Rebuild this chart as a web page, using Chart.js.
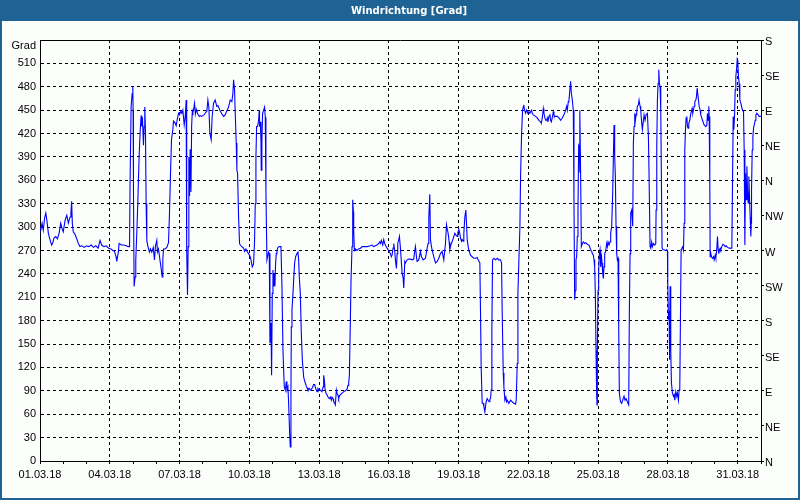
<!DOCTYPE html>
<html>
<head>
<meta charset="utf-8">
<script src="https://cdn.jsdelivr.net/npm/chart.js"></script>
<style>
html,body{margin:0;padding:0;background:#ffffff;}
canvas{display:block;}
</style>
</head>
<body>
<canvas id="c" width="800" height="500"></canvas>
<script>
const TITLE = 'Windrichtung [Grad]';
const Y_UNIT = 'Grad';
const START_DATE = [2018, 2, 1];
const COMPASS = ['N','NE','E','SE','S','SW','W','NW','N','NE','E','SE','S'];

const DAYS = [
0.00,0.04,0.09,0.14,0.20,0.25,0.29,0.33,0.36,0.43,0.50,0.55,0.60,0.68,0.75,0.82,0.89,0.95,1.00,1.08,
1.15,1.22,1.29,1.33,1.36,1.39,1.43,1.50,1.58,1.65,1.72,1.80,1.90,2.00,2.10,2.20,2.30,2.40,2.50,2.58,
2.65,2.75,2.85,2.95,3.05,3.13,3.20,3.27,3.30,3.37,3.40,3.50,3.60,3.70,3.80,3.85,
3.874,3.917,3.960,3.990,4.003,4.018,4.046,4.089,4.118,4.161,4.204,4.261,4.305,4.348,4.376,4.405,4.448,4.477,4.505,4.534,
4.563,4.592,4.635,4.707,4.750,4.807,4.870,4.922,4.965,5.022,5.050,5.094,5.166,5.209,5.252,5.281,5.310,5.380,5.453,5.525,
5.568,5.611,5.654,5.711,5.740,5.800,5.855,5.900,5.955,6.000,6.056,6.100,6.142,6.200,6.242,6.285,6.300,6.314,6.343,6.370,
6.400,6.430,6.457,6.490,6.520,6.550,6.572,6.610,6.644,6.680,6.720,6.760,6.800,6.850,6.888,6.950,7.000,7.050,7.100,7.175,
7.218,7.260,7.304,7.361,7.400,7.462,7.533,7.600,7.650,7.749,7.820,7.892,7.960,8.030,8.107,8.180,8.250,8.294,8.323,8.365,
8.390,8.437,8.466,8.495,8.538,8.580,
8.610,8.680,8.753,8.795,8.853,8.900,8.968,9.040,9.083,9.126,9.183,9.226,9.255,9.284,9.313,9.355,9.399,9.427,9.440,9.470,
9.500,9.513,9.540,9.571,9.614,9.657,9.686,9.714,9.757,9.786,9.829,9.858,9.887,9.930,9.958,9.987,10.016,10.045,10.073,10.100,
10.130,10.160,10.188,10.230,10.288,10.360,10.403,10.446,10.503,10.546,10.589,10.618,10.660,10.690,10.733,10.762,10.790,10.805,10.834,10.877,
10.906,10.948,10.991,11.049,11.092,11.120,11.149,11.192,11.235,11.278,11.336,11.365,11.407,11.450,11.480,11.522,11.580,11.623,11.695,11.766,
11.810,11.853,11.910,11.950,12.000,12.053,12.125,12.168,12.197,12.226,12.254,12.297,12.340,12.383,12.440,12.483,12.526,12.555,12.600,12.627,
12.670,12.699,12.742,12.770,12.814,12.842,12.885,12.914,12.986,13.060,13.129,13.200,13.244,13.273,13.302,
13.345,13.373,13.416,13.445,13.474,13.488,13.517,13.560,13.630,13.700,13.775,13.850,13.920,14.062,14.200,14.276,14.349,14.420,14.490,14.564,
14.607,14.636,14.679,14.736,14.779,14.822,14.850,14.923,14.990,15.066,15.109,15.138,15.180,15.210,15.253,15.282,15.325,15.354,15.382,15.425,
15.454,15.497,15.526,15.569,15.612,15.640,15.683,15.712,15.784,15.856,15.927,15.999,16.070,16.100,16.143,16.186,16.214,16.286,16.358,16.400,
16.473,16.573,16.645,16.688,16.717,16.760,16.788,16.831,16.874,16.930,17.004,17.075,17.147,17.218,17.290,17.362,17.405,17.434,17.477,17.520,
17.549,17.592,17.620,17.663,17.692,17.750,17.793,17.836,17.879,17.936,17.965,18.008,18.051,18.080,18.123,18.152,18.195,18.223,18.266,18.310,
18.338,18.367,18.410,18.453,18.510,18.582,18.653,18.725,18.797,18.840,18.912,18.941,18.969,19.012,19.055,19.084,19.127,19.155,19.184,19.228,
19.270,19.313,19.342,19.371,19.400,19.429,19.457,19.520,19.587,19.660,19.730,19.800,19.845,19.874,19.917,19.946,19.988,20.030,20.060,20.089,
20.160,20.232,20.300,20.376,20.447,20.476,20.519,20.548,20.591,20.634,20.663,20.706,20.749,20.778,
20.800,20.835,20.878,20.921,20.979,21.022,21.065,21.094,21.136,21.165,21.208,21.237,21.309,21.380,21.452,21.524,21.553,21.596,21.639,21.668,
21.710,21.739,21.782,21.811,21.840,21.883,21.926,21.954,21.983,22.026,22.069,22.098,22.127,22.170,22.241,22.313,22.385,22.456,22.528,22.600,
22.643,22.672,22.715,22.743,22.787,22.815,22.844,22.887,22.930,22.959,22.988,23.016,23.045,23.074,23.102,23.131,23.160,23.189,23.203,23.217,
23.246,23.275,23.318,23.360,23.418,23.461,23.533,23.605,23.676,23.719,23.748,23.791,23.820,23.849,23.877,23.906,23.935,23.949,23.963,23.992,
24.021,24.050,24.078,24.107,24.135,24.164,24.193,24.221,24.250,24.279,24.322,24.365,24.394,24.422,24.465,24.508,24.537,24.580,24.623,24.652,
24.681,24.709,24.738,24.767,24.796,24.824,24.853,24.882,24.910,24.960,25.011,25.054,25.111,25.154,25.197,25.255,25.312,25.341,25.370,25.398,
25.441,25.484,25.513,25.542,25.571,25.599,25.628,25.657,25.685,25.728,25.757,25.800,25.829,25.872,25.900,25.929,25.972,26.015,26.058,26.116,
26.159,26.188,26.230,
26.260,26.300,26.331,26.374,26.432,26.475,26.489,26.518,26.546,26.575,26.604,26.633,26.661,26.690,26.719,26.747,26.790,26.833,26.905,26.948,
26.977,26.991,27.020,27.049,27.063,27.077,27.092,27.120,27.149,27.192,27.235,27.264,27.293,27.336,27.379,27.407,27.450,27.479,27.508,27.537,
27.565,27.594,27.637,27.666,27.694,27.723,27.752,27.780,27.809,27.838,27.866,27.895,27.938,27.981,28.010,28.039,28.067,28.096,28.125,28.154,
28.197,28.225,28.254,28.268,28.297,28.340,28.383,28.412,28.484,28.555,28.627,28.670,28.699,28.728,28.756,28.771,28.799,28.814,28.843,28.871,
28.914,28.957,28.986,29.029,29.058,29.101,29.129,29.158,29.187,29.215,29.244,29.273,29.316,29.359,29.416,29.459,29.502,29.560,29.632,29.703,
29.746,29.775,29.804,29.832,29.861,29.890,29.918,29.947,29.976,30.004,30.033,30.062,30.090,30.134,30.162,30.205,30.248,30.277,30.306,30.335,
30.363,30.392,30.421,30.449,30.478,30.507,30.535,30.564,30.579,30.593,30.622,30.651,30.679,30.708,30.751,30.780,30.822,30.880,30.923,30.995
];

const DEG = [
300,298,305,296,312,318,310,300,292,284,277,280,286,288,285,292,305,298,294,309,
315,305,313,318,333,305,294,291,285,279,275,276,274,276,275,277,274,276,273,283,
277,275,276,273,272,270,269,262,256,268,279,277,277,276,275,275,
360,454,471,480,450,352,224,236,258,292,330,390,422,443,429,441,405,429,454,424,
330,283,276,268,272,268,274,258,276,283,268,272,256,247,236,258,272,272,274,280,
318,369,412,425,436,434,430,438,446,444,449,446,450,431,441,463,420,270,213,275,
390,340,400,345,430,449,447,452,459,445,451,447,444,442,443,442,443,444,446,449,
463,454,420,412,441,459,463,455,456,449,445,442,444,449,454,463,461,472,489,476,
450,408,373,369,313,279,
277,275,273,269,272,269,266,262,256,249,253,283,330,390,429,429,437,450,429,435,
412,373,407,446,450,454,441,347,258,262,268,266,151,177,110,215,245,224,241,224,
254,266,270,274,275,275,224,142,95,91,102,91,95,74,36,18,87,172,194,215,
232,254,262,266,268,258,236,215,164,130,108,104,100,96,94,91,93,91,93,98,
98,93,89,93,91,91,89,95,110,104,93,87,85,82,80,82,78,82,80,76,
74,72,91,87,84,80,84,85,87,89,90,92,97,100,110,
181,232,275,335,320,296,270,272,270,272,273,275,275,275,276,277,275,276,277,279,
281,279,283,277,284,279,277,273,270,266,262,264,273,279,269,258,247,266,279,284,
288,273,260,241,235,222,256,254,258,259,259,258,259,267,275,262,256,258,269,262,
258,260,273,279,313,342,284,275,269,262,254,256,260,266,269,258,271,279,303,296,
292,281,271,277,279,284,288,292,290,288,293,297,292,286,282,284,282,292,313,322,
305,284,275,269,264,262,260,260,261,258,254,189,120,74,74,70,63,70,76,80,
78,76,79,80,91,168,258,260,258,260,258,258,254,189,113,95,78,82,76,78,
74,78,76,74,73,78,125,215,258,300,365,420,450,454,
457,450,446,450,446,448,446,448,450,446,444,444,442,440,437,435,433,440,452,446,
440,437,437,440,435,442,444,437,435,440,448,444,442,442,442,440,437,440,444,450,
455,450,461,463,478,487,472,463,450,331,207,219,258,262,288,322,405,403,370,450,
365,275,279,281,279,280,278,277,271,269,266,264,258,249,215,142,83,72,138,219,
245,266,271,249,266,254,241,234,249,266,269,279,275,281,277,281,292,301,343,390,
431,390,365,301,266,258,260,172,87,76,74,78,83,78,80,76,72,194,266,318,
322,301,408,429,446,437,444,448,455,457,463,455,450,433,425,433,444,437,444,446,
416,365,275,
273,281,275,279,277,279,322,403,463,484,502,484,480,450,356,273,271,271,270,271,
269,228,185,189,130,164,224,142,100,87,83,85,78,89,83,87,78,91,93,185,
271,273,275,271,305,399,425,440,442,429,427,433,437,446,448,452,446,450,455,461,
463,467,478,474,467,455,450,444,437,431,429,431,446,437,455,442,356,262,266,262,
260,262,258,264,260,273,288,271,266,271,273,271,275,278,277,275,276,274,273,273,
273,356,442,425,442,476,493,502,514,510,493,484,463,459,455,450,448,399,277,369,
335,378,348,331,365,339,313,288,305,348,399,416,427,431,437,444,446,444,442,442
];

const FONT = '"Liberation Sans", Arial, sans-serif';

function pad2(n){ return (n < 10 ? '0' : '') + n; }
function dateLabel(dayOffset){
  const d = new Date(START_DATE[0], START_DATE[1], START_DATE[2] + dayOffset);
  return pad2(d.getDate()) + '.' + pad2(d.getMonth() + 1) + '.' + String(d.getFullYear()).slice(2);
}

const framePlugin = {
  id: 'frame',
  beforeDraw(chart) {
    const {ctx, width, height} = chart;
    ctx.save();
    ctx.fillStyle = '#fcfefc';
    ctx.fillRect(0, 0, width, height);
    ctx.fillStyle = '#1f6394';
    ctx.fillRect(0, 0, width, 21);
    ctx.fillRect(0, 0, 2, height);
    ctx.fillRect(width - 2, 0, 2, height);
    ctx.fillRect(0, height - 2, width, 2);
    ctx.fillStyle = '#ffffff';
    ctx.font = 'bold 10px "DejaVu Sans", sans-serif';
    ctx.textAlign = 'center';
    ctx.textBaseline = 'alphabetic';
    ctx.fillText(TITLE, 409, 14);
    ctx.restore();
  },
  afterDraw(chart) {
    const {ctx, chartArea: a} = chart;
    ctx.save();
    ctx.strokeStyle = '#000';
    ctx.lineWidth = 1;
    ctx.setLineDash([]);
    ctx.beginPath();
    ctx.moveTo(a.left, a.top + 0.5);
    ctx.lineTo(a.right, a.top + 0.5);
    ctx.stroke();
    ctx.fillStyle = '#000';
    ctx.font = '11px ' + FONT;
    ctx.textAlign = 'right';
    ctx.textBaseline = 'middle';
    ctx.fillText(Y_UNIT, a.left - 4, a.top + 6);
    ctx.restore();
  }
};

new Chart(document.getElementById('c'), {
  type: 'line',
  data: {
    datasets: [{
      data: DAYS.map((d, i) => ({x: d, y: DEG[i]})),
      borderColor: '#0000ff',
      borderWidth: 1.1,
      pointRadius: 0,
      fill: false,
      tension: 0,
      yAxisID: 'y'
    }]
  },
  options: {
    responsive: false,
    animation: false,
    events: [],
    layout: { autoPadding: false, padding: { top: 40, left: 0, right: 0, bottom: 0 } },
    plugins: { legend: { display: false }, tooltip: { enabled: false }, title: { display: false } },
    scales: {
      x: {
        type: 'linear', position: 'bottom', min: 0, max: 31,
        afterFit(s) { s.height = 39; },
        ticks: {
          stepSize: 1, autoSkip: false, maxRotation: 0, minRotation: 0, padding: 4,
          color: '#000', font: { family: FONT, size: 11 },
          callback: (v) => (v % 3 === 0 ? dateLabel(v) : '')
        },
        grid: {
          color: (c) => (c.tick && c.tick.value % 3 === 0 && c.tick.value > 0) ? '#000' : 'rgba(0,0,0,0)',
          tickColor: '#000', tickLength: 3, lineWidth: 1
        },
        border: { display: true, color: '#000', width: 1, dash: [3, 3] }
      },
      y: {
        position: 'left', min: 0, max: 540,
        afterFit(s) { s.width = 40; },
        ticks: {
          stepSize: 30, padding: 4, color: '#000', font: { family: FONT, size: 11 },
          callback: (v) => (v === 540 ? '' : String(v))
        },
        grid: { color: '#000', drawTicks: false, lineWidth: 1 },
        border: { display: true, color: '#000', width: 1, dash: [3, 3] }
      },
      y2: {
        position: 'right', min: 0, max: 540, display: true,
        afterFit(s) { s.width = 39; },
        ticks: {
          stepSize: 45, padding: 1, labelOffset: 2, color: '#000', font: { family: FONT, size: 11 },
          callback: (v) => COMPASS[Math.round(v / 45)]
        },
        grid: { drawOnChartArea: false, tickLength: 3, color: '#000', tickColor: '#000' },
        border: { display: true, color: '#000', width: 1 }
      }
    }
  },
  plugins: [framePlugin]
});
</script>
</body>
</html>
